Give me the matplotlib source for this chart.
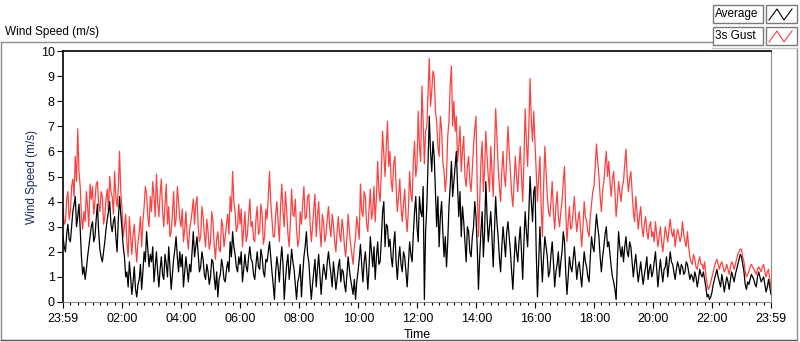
import numpy as np
import matplotlib
matplotlib.use("Agg")
import matplotlib.pyplot as plt
from matplotlib.patches import Rectangle
from matplotlib.lines import Line2D

plt.rcParams['font.family'] = ['Liberation Sans', 'DejaVu Sans']

# samples every 2.5 minutes from 23:59 to 23:59 (one row = one hour)
gust_speed = [
    3.7, 3.1, 3.2, 4.1, 4.4, 3.3, 3.6, 4.6, 4.9, 4.2, 5.8, 4.8, 6.9, 5.2, 4.6, 3.4, 2.9, 3.6, 3.2, 4.4, 3.8, 3.0, 4.7, 4.1,
    4.6, 3.5, 4.0, 4.7, 4.8, 3.9, 3.6, 4.4, 4.2, 3.1, 3.4, 4.1, 4.5, 3.6, 5.0, 4.4, 4.2, 3.5, 5.2, 4.2, 3.8, 4.5, 6.0, 4.4,
    3.7, 2.6, 3.0, 3.5, 2.4, 1.8, 3.4, 2.6, 1.9, 2.7, 3.1, 2.2, 1.6, 2.4, 2.8, 3.4, 2.2, 3.2, 3.8, 4.6, 4.3, 3.4, 3.0, 4.2,
    3.6, 4.8, 4.2, 3.4, 5.1, 4.0, 3.4, 4.3, 4.9, 3.6, 3.0, 3.9, 4.7, 3.1, 3.8, 2.6, 2.8, 3.5, 4.4, 3.0, 3.3, 4.6, 4.0, 3.3,
    3.0, 3.7, 2.4, 2.9, 3.6, 2.6, 2.1, 2.9, 3.2, 3.6, 4.1, 3.1, 3.9, 4.2, 3.0, 2.4, 2.6, 3.8, 3.4, 2.7, 2.2, 3.3, 2.8, 2.1,
    2.4, 3.6, 3.2, 2.3, 1.7, 2.5, 2.8, 2.1, 2.0, 3.3, 3.0, 2.2, 2.6, 3.1, 3.5, 2.7, 4.2, 3.6, 5.2, 4.0, 3.6, 2.8, 3.0, 3.9,
    3.1, 3.7, 2.2, 2.9, 3.6, 2.4, 2.7, 3.4, 4.1, 3.0, 3.2, 2.5, 2.4, 3.3, 3.8, 2.7, 2.8, 3.9, 3.5, 2.3, 2.6, 3.7, 3.3, 4.2,
    5.2, 4.0, 3.3, 2.6, 2.6, 3.5, 4.0, 3.2, 2.4, 3.8, 4.7, 3.6, 3.0, 4.4, 3.6, 2.7, 2.2, 3.2, 4.5, 3.5, 3.4, 4.1, 2.9, 2.2,
    2.5, 3.6, 3.1, 3.9, 4.6, 3.3, 3.4, 4.2, 4.3, 3.2, 2.4, 3.0, 3.7, 4.3, 2.6, 3.4, 4.0, 2.9, 2.2, 3.5, 3.2, 2.4, 2.7, 3.3,
    3.8, 3.0, 2.6, 3.5, 3.1, 2.4, 2.0, 2.8, 3.4, 2.7, 2.4, 3.3, 2.9, 2.2, 1.8, 2.6, 3.5, 2.8, 2.3, 1.9, 1.5, 2.2, 2.6, 3.4,
    3.0, 2.5, 4.7, 3.6, 3.4, 4.4, 4.2, 3.1, 2.8, 3.7, 4.5, 3.3, 3.6, 4.6, 3.2, 4.2, 5.6, 4.4, 4.0, 5.2, 6.8, 5.9, 5.0, 6.2,
    7.2, 5.4, 6.0, 4.8, 4.4, 5.5, 5.8, 4.6, 3.6, 4.2, 4.9, 3.8, 3.2, 3.9, 4.5, 3.4, 2.8, 3.7, 5.2, 4.3, 4.0, 5.6, 6.4, 5.0,
    5.4, 7.6, 6.2, 5.6, 8.6, 7.2, 5.5, 6.8, 7.0, 8.4, 9.7, 7.8, 8.4, 9.2, 9.0, 7.6, 7.2, 6.2, 5.8, 7.4, 6.9, 5.6, 5.2, 4.4,
    5.0, 6.6, 7.2, 8.6, 9.4, 7.0, 8.0, 6.8, 7.4, 5.6, 6.2, 7.0, 5.2, 6.0, 6.6, 5.0, 4.6, 5.4, 5.8, 4.8, 4.4, 5.3, 6.2, 6.9,
    7.4, 4.6, 2.6, 4.0, 5.6, 6.4, 4.4, 5.3, 6.8, 5.8, 5.0, 4.4, 6.2, 5.2, 4.2, 6.0, 7.7, 6.6, 5.4, 4.6, 4.0, 5.2, 6.0, 5.0,
    4.6, 5.8, 7.0, 6.0, 5.2, 4.3, 3.8, 4.8, 5.8, 5.0, 4.4, 5.4, 6.2, 5.0, 4.0, 5.6, 7.7, 6.4, 5.4, 7.0, 8.9, 7.2, 6.4, 7.6,
    6.3, 5.2, 4.0, 5.0, 5.8, 3.8, 2.6, 4.6, 6.2, 5.2, 4.2, 3.6, 3.4, 4.0, 4.8, 3.6, 2.9, 3.8, 4.4, 3.4, 3.0, 3.6, 4.0, 4.8,
    5.4, 3.6, 2.4, 3.2, 3.8, 2.9, 3.0, 3.6, 4.2, 3.4, 2.8, 3.3, 3.6, 2.9, 2.2, 3.0, 4.0, 3.4, 3.2, 2.8, 2.6, 3.4, 3.9, 4.4,
    4.6, 5.4, 6.3, 5.6, 5.0, 4.2, 3.6, 4.4, 4.8, 5.4, 6.0, 5.0, 5.6, 4.8, 4.2, 4.9, 5.2, 4.4, 3.4, 4.0, 4.8, 4.4, 4.0, 4.6,
    4.8, 5.5, 6.1, 5.0, 4.4, 4.9, 5.2, 4.4, 3.6, 3.2, 4.2, 3.6, 2.9, 3.4, 3.8, 3.0, 2.6, 3.1, 3.4, 2.8, 2.5, 3.0, 3.2, 2.6,
    2.8, 2.4, 3.2, 2.7, 2.2, 2.6, 3.0, 2.4, 2.0, 2.5, 3.0, 2.7, 2.4, 2.9, 3.3, 2.8, 2.6, 2.9, 2.2, 2.6, 2.9, 2.7, 2.4, 2.6,
    3.2, 2.7, 2.4, 2.2, 2.8, 2.2, 1.8, 1.6, 1.5, 1.9, 1.7, 1.4, 1.3, 1.6, 1.8, 1.5, 1.5, 1.3, 1.6, 1.1, 0.7, 0.5, 0.6, 0.8,
    1.0, 1.2, 1.4, 1.6, 1.7, 1.5, 1.3, 1.5, 1.6, 1.4, 1.2, 1.3, 1.5, 1.3, 1.1, 1.4, 1.6, 1.5, 1.3, 1.5, 1.7, 1.9, 2.0, 2.1,
    2.1, 1.8, 1.6, 1.2, 1.0, 1.1, 1.2, 1.4, 1.5, 1.4, 1.3, 1.2, 1.1, 1.3, 1.4, 1.3, 1.2, 1.4, 1.5, 1.2, 1.0, 1.2, 1.3, 0.9,
    0.6,
]
avg_speed = [
    2.6, 2.2, 2.0, 2.7, 3.1, 2.5, 2.4, 3.0, 3.6, 3.9, 4.2, 3.0, 3.4, 3.9, 2.9, 1.8, 1.1, 1.4, 0.9, 1.3, 1.8, 2.2, 2.6, 3.0,
    3.2, 2.4, 2.6, 3.3, 3.9, 2.8, 2.1, 1.8, 1.6, 2.0, 2.4, 2.9, 3.3, 3.6, 4.0, 3.1, 2.8, 3.2, 3.4, 2.6, 2.0, 3.3, 4.2, 3.5,
    2.9, 2.2, 1.8, 1.0, 1.2, 0.6, 1.6, 1.0, 0.3, 0.8, 1.4, 0.5, 0.2, 0.7, 0.9, 1.5, 0.5, 1.2, 2.0, 1.6, 2.8, 2.1, 1.4, 1.9,
    1.6, 2.2, 0.8, 1.4, 2.0, 1.2, 0.6, 1.3, 1.8, 1.1, 0.9, 1.9, 1.5, 1.0, 2.2, 1.4, 0.5, 1.1, 1.7, 2.1, 2.6, 1.8, 1.2, 2.0,
    1.4, 1.9, 0.6, 1.2, 1.8, 1.3, 0.8, 1.5, 1.2, 2.0, 2.8, 1.8, 2.2, 2.6, 1.9, 1.2, 1.4, 2.0, 1.7, 1.1, 0.9, 1.5, 1.2, 0.7,
    1.0, 1.7, 1.6, 1.0, 0.5, 1.2, 0.2, 0.9, 1.1, 1.7, 1.4, 0.9, 0.8, 1.3, 1.6, 1.2, 2.4, 1.8, 2.8, 2.2, 1.9, 1.4, 1.2, 1.8,
    1.5, 2.0, 0.8, 1.3, 1.9, 1.4, 1.2, 1.8, 2.2, 1.7, 1.6, 1.1, 0.9, 1.5, 2.0, 1.4, 1.3, 2.1, 1.8, 1.2, 1.0, 1.7, 1.6, 2.0,
    2.4, 1.8, 1.2, 0.7, 0.1, 1.2, 1.8, 1.4, 0.8, 1.6, 2.2, 1.5, 0.1, 0.9, 1.5, 1.9, 0.9, 1.4, 2.1, 1.6, 1.3, 0.7, 0.1, 0.8,
    1.0, 1.5, 0.2, 1.1, 1.8, 2.2, 2.8, 1.9, 1.6, 0.8, 0.1, 0.7, 1.2, 1.7, 0.6, 1.3, 1.9, 1.1, 0.3, 1.0, 1.5, 1.2, 0.9, 1.6,
    2.0, 1.5, 1.1, 0.6, 1.6, 1.1, 0.5, 0.9, 1.4, 1.7, 0.8, 1.3, 1.2, 0.7, 0.4, 1.1, 1.8, 1.3, 0.9, 0.6, 0.3, 0.9, 0.1, 0.8,
    1.2, 1.7, 2.3, 1.5, 0.8, 1.6, 2.0, 1.3, 0.5, 1.4, 2.6, 2.0, 1.4, 2.2, 0.9, 1.8, 2.4, 1.5, 1.6, 2.5, 3.6, 4.0, 2.2, 3.1,
    3.0, 2.2, 2.5, 1.8, 1.4, 2.3, 2.8, 1.6, 0.9, 1.7, 2.2, 1.5, 1.2, 2.0, 1.8, 1.2, 0.6, 1.5, 2.4, 1.9, 1.6, 2.7, 3.6, 4.2,
    3.0, 2.4, 4.2, 3.6, 3.4, 4.6, 0.1, 2.8, 3.8, 5.6, 7.4, 6.0, 5.2, 6.4, 5.8, 4.4, 3.0, 4.2, 2.2, 3.4, 4.0, 2.8, 1.8, 2.6,
    1.4, 2.4, 3.8, 4.6, 5.6, 4.2, 4.8, 5.4, 6.0, 4.6, 3.4, 4.4, 2.6, 3.8, 3.2, 2.4, 1.6, 3.0, 2.8, 2.0, 1.8, 2.6, 3.0, 4.0,
    3.4, 2.2, 0.5, 1.8, 2.8, 3.6, 1.8, 2.8, 4.8, 3.4, 2.4, 3.0, 3.6, 2.6, 1.4, 2.8, 4.2, 3.2, 2.6, 1.8, 1.2, 2.2, 3.0, 2.4,
    1.8, 2.8, 3.2, 2.6, 2.0, 1.2, 0.5, 1.6, 2.6, 2.0, 1.6, 2.4, 3.0, 2.0, 0.9, 2.4, 3.6, 2.8, 2.2, 3.6, 5.0, 4.0, 3.2, 4.4,
    4.6, 2.0, 0.2, 1.6, 3.0, 1.8, 0.8, 1.8, 2.6, 2.2, 1.8, 1.0, 1.2, 1.9, 2.4, 1.6, 0.6, 1.2, 1.5, 2.0, 1.0, 1.6, 2.0, 2.8,
    2.4, 1.2, 0.3, 1.0, 1.8, 1.4, 1.2, 1.7, 2.2, 1.6, 0.9, 1.4, 1.6, 1.1, 0.6, 1.3, 2.0, 1.6, 1.4, 1.0, 0.8, 1.8, 2.6, 2.2,
    2.0, 2.8, 3.5, 3.0, 2.6, 1.8, 1.2, 1.8, 2.2, 2.7, 3.0, 2.2, 2.4, 1.9, 1.4, 1.0, 0.8, 0.5, 0.1, 1.6, 2.8, 2.2, 1.8, 2.2,
    1.6, 2.2, 2.6, 2.0, 1.8, 2.4, 2.2, 1.6, 1.0, 1.5, 1.9, 1.3, 0.8, 1.2, 1.6, 1.1, 0.7, 1.1, 1.4, 1.8, 0.9, 1.3, 1.5, 1.0,
    1.2, 1.6, 2.0, 1.3, 0.6, 1.2, 1.7, 1.2, 0.8, 1.3, 1.4, 1.8, 1.0, 1.5, 2.0, 1.6, 1.5, 1.2, 0.9, 1.3, 1.6, 1.4, 1.1, 1.5,
    1.4, 1.1, 1.2, 1.6, 1.5, 1.2, 0.9, 1.1, 1.0, 0.8, 1.2, 1.0, 0.6, 0.9, 1.3, 1.1, 1.0, 1.2, 0.9, 0.6, 0.2, 0.3, 0.1, 0.2,
    0.4, 0.7, 0.9, 1.1, 1.3, 1.0, 0.8, 0.6, 1.1, 0.8, 0.4, 0.7, 1.0, 0.8, 0.5, 0.9, 1.2, 1.0, 0.8, 1.1, 1.3, 1.5, 1.7, 1.9,
    1.8, 1.5, 1.2, 0.7, 0.5, 0.8, 0.7, 0.9, 1.1, 1.0, 0.9, 0.7, 0.6, 1.0, 1.2, 1.0, 0.8, 0.9, 1.0, 0.7, 0.4, 0.6, 0.9, 0.6,
    0.3,
]
tick_hours = [-1/60, 2, 4, 6, 8, 10, 12, 14, 16, 18, 20, 22, 24 - 1/60]
tick_labels = ["23:59", "02:00", "04:00", "06:00", "08:00", "10:00", "12:00",
               "14:00", "16:00", "18:00", "20:00", "22:00", "23:59"]

t = np.arange(len(avg_speed)) * 2.5 / 60 - 1 / 60

W, H = 800, 342
fig = plt.figure(figsize=(8, 3.42), dpi=100)

def fx(px):
    return px / W

def fy(py):
    return 1 - py / H

# outer panel
fig.add_artist(Line2D([fx(1), fx(712)], [fy(42), fy(42)], color="#8c8c8c", lw=1))
fig.add_artist(Line2D([fx(1), fx(1)], [fy(42), fy(340)], color="#8c8c8c", lw=1))
fig.add_artist(Line2D([fx(1), fx(797)], [fy(340), fy(340)], color="#555555", lw=1))
fig.add_artist(Line2D([fx(797), fx(797)], [fy(48), fy(340)], color="#8c8c8c", lw=1))
fig.add_artist(Line2D([fx(712), fx(797)], [fy(48), fy(48)], color="#c8c8c8", lw=1))
fig.text(fx(5), fy(32), "Wind Speed (m/s)", fontsize=8.5, va="center", ha="left")

# legend boxes
for row, (name, col) in enumerate([("Average", "black"), ("3s Gust", "#ff4040")]):
    top = 5 + row * 22
    fig.add_artist(Rectangle((fx(713), fy(top + 18)), fx(50), 18 / H,
                             fill=False, edgecolor="#7a7a7a", lw=1))
    fig.text(fx(715), fy(top + 9), name, fontsize=8.5, va="center", ha="left")
    fig.add_artist(Rectangle((fx(766), fy(top + 18)), fx(31), 18 / H,
                             fill=False, edgecolor="#7a7a7a", lw=1))
    zx = [769, 777, 784, 792]
    zy = [top + 15, top + 4, top + 15, top + 4]
    fig.add_artist(Line2D([fx(v) for v in zx], [fy(v) for v in zy], color=col, lw=0.8))

ax = fig.add_axes([fx(63), fy(302), fx(771 - 63), (302 - 51) / H])
ax.plot(t, gust_speed, color="#ff4040", lw=0.9)
ax.plot(t, avg_speed, color="black", lw=0.9)

ax.set_xlim(-1/60, 24 - 1/60)
ax.set_ylim(0, 10)
ax.set_xticks(tick_hours)
ax.set_xticklabels(tick_labels)
ax.set_xticks(np.arange(-1/60, 24, 0.25), minor=True)
ax.set_yticks(range(11))
ax.tick_params(axis="both", labelsize=9, direction="out", length=4, width=0.8, pad=2)
ax.tick_params(axis="x", pad=4)
ax.tick_params(axis="x", which="minor", length=2.5, width=0.8)
ax.set_xlabel("Time", fontsize=9, labelpad=3)
ax.set_ylabel("Wind Speed (m/s)", fontsize=8.5, color="#1a2b5c", labelpad=2)

ax.spines["left"].set_color("black")
ax.spines["top"].set_color("black")
ax.spines["left"].set_linewidth(1.2)
ax.spines["top"].set_linewidth(1.2)
ax.spines["bottom"].set_color("#8c8c8c")
ax.spines["right"].set_color("#8c8c8c")

fig.savefig("out.png", dpi=100)
